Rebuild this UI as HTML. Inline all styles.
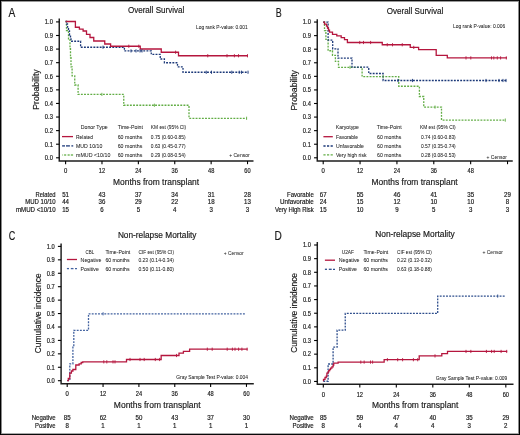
<!DOCTYPE html>
<html><head><meta charset="utf-8"><title>Survival curves</title>
<style>
html,body{margin:0;padding:0;background:#fff;}
svg{display:block;}
text{font-family:"Liberation Sans", sans-serif;}
.t{opacity:0.999;}
.t text{stroke:#1a1a1a;stroke-width:0.18px;}
</style></head>
<body>
<svg width="520" height="435" viewBox="0 0 520 435">
<rect width="520" height="435" fill="#fff"/>
<path d="M59.25,18.50 L59.25,161.00 L253.50,161.00" fill="none" stroke="#1e1e1e" stroke-width="1.45"/>
<line x1="56.05" y1="157.80" x2="59.25" y2="157.80" stroke="#000" stroke-width="1.1"/>
<line x1="56.05" y1="144.21" x2="59.25" y2="144.21" stroke="#000" stroke-width="1.1"/>
<line x1="56.05" y1="130.62" x2="59.25" y2="130.62" stroke="#000" stroke-width="1.1"/>
<line x1="56.05" y1="117.03" x2="59.25" y2="117.03" stroke="#000" stroke-width="1.1"/>
<line x1="56.05" y1="103.44" x2="59.25" y2="103.44" stroke="#000" stroke-width="1.1"/>
<line x1="56.05" y1="89.85" x2="59.25" y2="89.85" stroke="#000" stroke-width="1.1"/>
<line x1="56.05" y1="76.26" x2="59.25" y2="76.26" stroke="#000" stroke-width="1.1"/>
<line x1="56.05" y1="62.67" x2="59.25" y2="62.67" stroke="#000" stroke-width="1.1"/>
<line x1="56.05" y1="49.08" x2="59.25" y2="49.08" stroke="#000" stroke-width="1.1"/>
<line x1="56.05" y1="35.49" x2="59.25" y2="35.49" stroke="#000" stroke-width="1.1"/>
<line x1="56.05" y1="21.90" x2="59.25" y2="21.90" stroke="#000" stroke-width="1.1"/>
<line x1="65.60" y1="161.00" x2="65.60" y2="164.20" stroke="#000" stroke-width="1.1"/>
<line x1="101.98" y1="161.00" x2="101.98" y2="164.20" stroke="#000" stroke-width="1.1"/>
<line x1="138.37" y1="161.00" x2="138.37" y2="164.20" stroke="#000" stroke-width="1.1"/>
<line x1="174.75" y1="161.00" x2="174.75" y2="164.20" stroke="#000" stroke-width="1.1"/>
<line x1="211.14" y1="161.00" x2="211.14" y2="164.20" stroke="#000" stroke-width="1.1"/>
<line x1="247.52" y1="161.00" x2="247.52" y2="164.20" stroke="#000" stroke-width="1.1"/>
<path d="M65.60,21.50 L66.50,21.50 L66.50,30.50 L68.50,30.50 L68.50,39.60 L70.00,39.60 L70.00,48.70 L70.50,48.70 L70.50,57.70 L71.00,57.70 L71.00,66.80 L72.10,66.80 L72.10,75.90 L74.75,75.90 L74.75,85.00 L78.10,85.00 L78.10,94.40 L123.75,94.40 L123.75,105.25 L189.00,105.25 L189.00,118.30 L246.75,118.30 L246.75,118.30" fill="none" stroke="#62ad45" stroke-width="1.3" stroke-dasharray="1.9,1.25"/>
<path d="M65.60,21.50 L66.50,21.50 L66.50,24.00 L67.50,24.00 L67.50,27.00 L68.50,27.00 L68.50,31.00 L69.50,31.00 L69.50,35.00 L70.50,35.00 L70.50,37.75 L71.00,37.75 L71.00,41.25 L80.60,41.25 L80.60,47.25 L124.40,47.25 L124.40,50.90 L151.25,50.90 L151.25,54.40 L160.25,54.40 L160.25,59.00 L164.40,59.00 L164.40,62.75 L177.50,62.75 L177.50,66.90 L183.00,66.90 L183.00,72.25 L248.20,72.25 L248.20,72.25" fill="none" stroke="#1b3878" stroke-width="1.3" stroke-dasharray="1.9,1.25"/>
<path d="M65.60,21.50 L75.40,21.50 L75.40,27.25 L79.40,27.25 L79.40,29.10 L83.10,29.10 L83.10,31.00 L86.50,31.00 L86.50,34.40 L90.00,34.40 L90.00,37.50 L93.75,37.50 L93.75,41.00 L104.75,41.00 L104.75,44.00 L110.60,44.00 L110.60,46.25 L140.25,46.25 L140.25,49.00 L161.25,49.00 L161.25,52.25 L178.50,52.25 L178.50,55.75 L247.80,55.75 L247.80,55.75" fill="none" stroke="#b5163e" stroke-width="1.3"/>
<line x1="128.80" y1="44.65" x2="128.80" y2="47.85" stroke="#b5163e" stroke-width="0.9"/>
<line x1="138.80" y1="44.65" x2="138.80" y2="47.85" stroke="#b5163e" stroke-width="0.9"/>
<line x1="175.60" y1="50.65" x2="175.60" y2="53.85" stroke="#b5163e" stroke-width="0.9"/>
<line x1="207.75" y1="54.15" x2="207.75" y2="57.35" stroke="#b5163e" stroke-width="0.9"/>
<line x1="227.00" y1="54.15" x2="227.00" y2="57.35" stroke="#b5163e" stroke-width="0.9"/>
<line x1="234.40" y1="54.15" x2="234.40" y2="57.35" stroke="#b5163e" stroke-width="0.9"/>
<line x1="238.50" y1="54.15" x2="238.50" y2="57.35" stroke="#b5163e" stroke-width="0.9"/>
<line x1="247.50" y1="54.15" x2="247.50" y2="57.35" stroke="#b5163e" stroke-width="0.9"/>
<line x1="103.00" y1="45.65" x2="103.00" y2="48.85" stroke="#1b3878" stroke-width="0.9"/>
<line x1="131.00" y1="49.30" x2="131.00" y2="52.50" stroke="#1b3878" stroke-width="0.9"/>
<line x1="136.00" y1="49.30" x2="136.00" y2="52.50" stroke="#1b3878" stroke-width="0.9"/>
<line x1="140.00" y1="49.30" x2="140.00" y2="52.50" stroke="#1b3878" stroke-width="0.9"/>
<line x1="142.00" y1="49.30" x2="142.00" y2="52.50" stroke="#1b3878" stroke-width="0.9"/>
<line x1="206.25" y1="70.65" x2="206.25" y2="73.85" stroke="#1b3878" stroke-width="0.9"/>
<line x1="211.50" y1="70.65" x2="211.50" y2="73.85" stroke="#1b3878" stroke-width="0.9"/>
<line x1="231.75" y1="70.65" x2="231.75" y2="73.85" stroke="#1b3878" stroke-width="0.9"/>
<line x1="239.25" y1="70.65" x2="239.25" y2="73.85" stroke="#1b3878" stroke-width="0.9"/>
<line x1="241.50" y1="70.65" x2="241.50" y2="73.85" stroke="#1b3878" stroke-width="0.9"/>
<line x1="248.00" y1="70.65" x2="248.00" y2="73.85" stroke="#1b3878" stroke-width="0.9"/>
<line x1="101.90" y1="92.80" x2="101.90" y2="96.00" stroke="#62ad45" stroke-width="0.9"/>
<line x1="154.40" y1="103.65" x2="154.40" y2="106.85" stroke="#62ad45" stroke-width="0.9"/>
<line x1="246.60" y1="116.70" x2="246.60" y2="119.90" stroke="#62ad45" stroke-width="0.9"/>
<line x1="62.00" y1="136.60" x2="73.00" y2="136.60" stroke="#b5163e" stroke-width="1.3"/>
<line x1="62.10" y1="145.90" x2="65.00" y2="145.90" stroke="#1b3878" stroke-width="1.3"/>
<line x1="66.00" y1="145.90" x2="69.90" y2="145.90" stroke="#1b3878" stroke-width="1.3"/>
<line x1="71.40" y1="145.90" x2="73.20" y2="145.90" stroke="#1b3878" stroke-width="1.3"/>
<line x1="64.10" y1="155.00" x2="66.20" y2="155.00" stroke="#62ad45" stroke-width="1.3"/>
<line x1="67.60" y1="155.00" x2="69.70" y2="155.00" stroke="#62ad45" stroke-width="1.3"/>
<line x1="70.80" y1="155.00" x2="73.10" y2="155.00" stroke="#62ad45" stroke-width="1.3"/>
<line x1="62.0" y1="155.0" x2="63.1" y2="155.0" stroke="#62ad45" stroke-width="1.3" opacity="0.5"/>
<path d="M317.25,19.30 L317.25,161.00 L512.75,161.00" fill="none" stroke="#1e1e1e" stroke-width="1.45"/>
<line x1="314.05" y1="157.80" x2="317.25" y2="157.80" stroke="#000" stroke-width="1.1"/>
<line x1="314.05" y1="144.23" x2="317.25" y2="144.23" stroke="#000" stroke-width="1.1"/>
<line x1="314.05" y1="130.65" x2="317.25" y2="130.65" stroke="#000" stroke-width="1.1"/>
<line x1="314.05" y1="117.08" x2="317.25" y2="117.08" stroke="#000" stroke-width="1.1"/>
<line x1="314.05" y1="103.50" x2="317.25" y2="103.50" stroke="#000" stroke-width="1.1"/>
<line x1="314.05" y1="89.93" x2="317.25" y2="89.93" stroke="#000" stroke-width="1.1"/>
<line x1="314.05" y1="76.35" x2="317.25" y2="76.35" stroke="#000" stroke-width="1.1"/>
<line x1="314.05" y1="62.78" x2="317.25" y2="62.78" stroke="#000" stroke-width="1.1"/>
<line x1="314.05" y1="49.20" x2="317.25" y2="49.20" stroke="#000" stroke-width="1.1"/>
<line x1="314.05" y1="35.63" x2="317.25" y2="35.63" stroke="#000" stroke-width="1.1"/>
<line x1="314.05" y1="22.05" x2="317.25" y2="22.05" stroke="#000" stroke-width="1.1"/>
<line x1="323.20" y1="161.00" x2="323.20" y2="164.20" stroke="#000" stroke-width="1.1"/>
<line x1="360.06" y1="161.00" x2="360.06" y2="164.20" stroke="#000" stroke-width="1.1"/>
<line x1="396.93" y1="161.00" x2="396.93" y2="164.20" stroke="#000" stroke-width="1.1"/>
<line x1="433.79" y1="161.00" x2="433.79" y2="164.20" stroke="#000" stroke-width="1.1"/>
<line x1="470.66" y1="161.00" x2="470.66" y2="164.20" stroke="#000" stroke-width="1.1"/>
<line x1="507.52" y1="161.00" x2="507.52" y2="164.20" stroke="#000" stroke-width="1.1"/>
<path d="M323.20,22.20 L324.50,22.20 L324.50,30.60 L325.90,30.60 L325.90,39.40 L328.10,39.40 L328.10,50.75 L332.50,50.75 L332.50,55.30 L335.40,55.30 L335.40,61.40 L338.50,61.40 L338.50,67.30 L362.10,67.30 L362.10,76.60 L398.75,76.60 L398.75,86.25 L419.40,86.25 L419.40,96.50 L423.75,96.50 L423.75,107.10 L441.50,107.10 L441.50,120.10 L505.50,120.10 L505.50,120.10" fill="none" stroke="#62ad45" stroke-width="1.3" stroke-dasharray="1.9,1.25"/>
<path d="M323.20,22.20 L328.10,22.20 L328.10,40.10 L332.70,40.10 L332.70,48.80 L338.00,48.80 L338.00,58.20 L352.00,58.20 L352.00,67.20 L368.75,67.20 L368.75,73.50 L383.10,73.50 L383.10,80.50 L507.00,80.50 L507.00,80.50" fill="none" stroke="#1b3878" stroke-width="1.3" stroke-dasharray="1.9,1.25"/>
<path d="M323.20,22.20 L324.50,22.20 L324.50,24.20 L326.50,24.20 L326.50,26.20 L327.50,26.20 L327.50,28.20 L328.50,28.20 L328.50,30.20 L329.50,30.20 L329.50,32.20 L332.50,32.20 L332.50,34.30 L336.80,34.30 L336.80,35.80 L341.20,35.80 L341.20,37.70 L344.50,37.70 L344.50,39.65 L347.40,39.65 L347.40,42.50 L382.25,42.50 L382.25,44.75 L410.25,44.75 L410.25,47.40 L418.60,47.40 L418.60,49.60 L436.20,49.60 L436.20,55.40 L447.30,55.40 L447.30,57.90 L507.00,57.90 L507.00,57.90" fill="none" stroke="#b5163e" stroke-width="1.3"/>
<line x1="359.75" y1="40.90" x2="359.75" y2="44.10" stroke="#b5163e" stroke-width="0.9"/>
<line x1="363.50" y1="40.90" x2="363.50" y2="44.10" stroke="#b5163e" stroke-width="0.9"/>
<line x1="370.60" y1="40.90" x2="370.60" y2="44.10" stroke="#b5163e" stroke-width="0.9"/>
<line x1="387.25" y1="43.15" x2="387.25" y2="46.35" stroke="#b5163e" stroke-width="0.9"/>
<line x1="392.50" y1="43.15" x2="392.50" y2="46.35" stroke="#b5163e" stroke-width="0.9"/>
<line x1="402.25" y1="43.15" x2="402.25" y2="46.35" stroke="#b5163e" stroke-width="0.9"/>
<line x1="413.75" y1="45.80" x2="413.75" y2="49.00" stroke="#b5163e" stroke-width="0.9"/>
<line x1="466.00" y1="56.30" x2="466.00" y2="59.50" stroke="#b5163e" stroke-width="0.9"/>
<line x1="470.80" y1="56.30" x2="470.80" y2="59.50" stroke="#b5163e" stroke-width="0.9"/>
<line x1="491.50" y1="56.30" x2="491.50" y2="59.50" stroke="#b5163e" stroke-width="0.9"/>
<line x1="493.80" y1="56.30" x2="493.80" y2="59.50" stroke="#b5163e" stroke-width="0.9"/>
<line x1="497.30" y1="56.30" x2="497.30" y2="59.50" stroke="#b5163e" stroke-width="0.9"/>
<line x1="500.60" y1="56.30" x2="500.60" y2="59.50" stroke="#b5163e" stroke-width="0.9"/>
<line x1="506.30" y1="56.30" x2="506.30" y2="59.50" stroke="#b5163e" stroke-width="0.9"/>
<line x1="398.00" y1="78.90" x2="398.00" y2="82.10" stroke="#1b3878" stroke-width="0.9"/>
<line x1="412.50" y1="78.90" x2="412.50" y2="82.10" stroke="#1b3878" stroke-width="0.9"/>
<line x1="486.00" y1="78.90" x2="486.00" y2="82.10" stroke="#1b3878" stroke-width="0.9"/>
<line x1="499.00" y1="78.90" x2="499.00" y2="82.10" stroke="#1b3878" stroke-width="0.9"/>
<line x1="503.00" y1="78.90" x2="503.00" y2="82.10" stroke="#1b3878" stroke-width="0.9"/>
<line x1="506.00" y1="78.90" x2="506.00" y2="82.10" stroke="#1b3878" stroke-width="0.9"/>
<line x1="350.00" y1="65.70" x2="350.00" y2="68.90" stroke="#62ad45" stroke-width="0.9"/>
<line x1="383.10" y1="75.00" x2="383.10" y2="78.20" stroke="#62ad45" stroke-width="0.9"/>
<line x1="435.00" y1="105.50" x2="435.00" y2="108.70" stroke="#62ad45" stroke-width="0.9"/>
<line x1="505.30" y1="118.50" x2="505.30" y2="121.70" stroke="#62ad45" stroke-width="0.9"/>
<line x1="323.40" y1="136.70" x2="332.80" y2="136.70" stroke="#b5163e" stroke-width="1.3"/>
<line x1="323.40" y1="146.00" x2="332.80" y2="146.00" stroke="#1b3878" stroke-width="1.3" stroke-dasharray="2.2,1.4"/>
<line x1="323.40" y1="154.90" x2="332.80" y2="154.90" stroke="#62ad45" stroke-width="1.3" stroke-dasharray="2.2,1.4"/>
<path d="M61.10,243.50 L61.10,383.70 L253.80,383.70" fill="none" stroke="#1e1e1e" stroke-width="1.45"/>
<line x1="57.90" y1="380.70" x2="61.10" y2="380.70" stroke="#000" stroke-width="1.1"/>
<line x1="57.90" y1="367.27" x2="61.10" y2="367.27" stroke="#000" stroke-width="1.1"/>
<line x1="57.90" y1="353.84" x2="61.10" y2="353.84" stroke="#000" stroke-width="1.1"/>
<line x1="57.90" y1="340.41" x2="61.10" y2="340.41" stroke="#000" stroke-width="1.1"/>
<line x1="57.90" y1="326.98" x2="61.10" y2="326.98" stroke="#000" stroke-width="1.1"/>
<line x1="57.90" y1="313.55" x2="61.10" y2="313.55" stroke="#000" stroke-width="1.1"/>
<line x1="57.90" y1="300.12" x2="61.10" y2="300.12" stroke="#000" stroke-width="1.1"/>
<line x1="57.90" y1="286.69" x2="61.10" y2="286.69" stroke="#000" stroke-width="1.1"/>
<line x1="57.90" y1="273.26" x2="61.10" y2="273.26" stroke="#000" stroke-width="1.1"/>
<line x1="57.90" y1="259.83" x2="61.10" y2="259.83" stroke="#000" stroke-width="1.1"/>
<line x1="57.90" y1="246.40" x2="61.10" y2="246.40" stroke="#000" stroke-width="1.1"/>
<line x1="67.20" y1="383.70" x2="67.20" y2="386.90" stroke="#000" stroke-width="1.1"/>
<line x1="103.06" y1="383.70" x2="103.06" y2="386.90" stroke="#000" stroke-width="1.1"/>
<line x1="138.91" y1="383.70" x2="138.91" y2="386.90" stroke="#000" stroke-width="1.1"/>
<line x1="174.77" y1="383.70" x2="174.77" y2="386.90" stroke="#000" stroke-width="1.1"/>
<line x1="210.62" y1="383.70" x2="210.62" y2="386.90" stroke="#000" stroke-width="1.1"/>
<line x1="246.48" y1="383.70" x2="246.48" y2="386.90" stroke="#000" stroke-width="1.1"/>
<path d="M67.20,380.60 L69.80,380.60 L69.80,363.80 L72.90,363.80 L72.90,347.10 L73.80,347.10 L73.80,330.30 L88.50,330.30 L88.50,313.80 L246.00,313.80 L246.00,313.80" fill="none" stroke="#4262a0" stroke-width="1.3" stroke-dasharray="1.9,1.25"/>
<path d="M67.20,380.60 L68.30,380.60 L68.30,378.50 L69.80,378.50 L69.80,373.10 L71.40,373.10 L71.40,371.00 L72.90,371.00 L72.90,369.50 L75.80,369.50 L75.80,365.00 L79.10,365.00 L79.10,363.80 L81.20,363.80 L81.20,362.50 L82.75,362.50 L82.75,361.85 L126.50,361.85 L126.50,359.50 L161.15,359.50 L161.15,355.50 L179.00,355.50 L179.00,353.10 L183.40,353.10 L183.40,351.30 L189.60,351.30 L189.60,349.20 L247.60,349.20 L247.60,349.20" fill="none" stroke="#b5163e" stroke-width="1.3"/>
<line x1="103.80" y1="360.25" x2="103.80" y2="363.45" stroke="#b5163e" stroke-width="0.9"/>
<line x1="106.80" y1="360.25" x2="106.80" y2="363.45" stroke="#b5163e" stroke-width="0.9"/>
<line x1="113.00" y1="360.25" x2="113.00" y2="363.45" stroke="#b5163e" stroke-width="0.9"/>
<line x1="115.00" y1="360.25" x2="115.00" y2="363.45" stroke="#b5163e" stroke-width="0.9"/>
<line x1="130.00" y1="357.90" x2="130.00" y2="361.10" stroke="#b5163e" stroke-width="0.9"/>
<line x1="140.00" y1="357.90" x2="140.00" y2="361.10" stroke="#b5163e" stroke-width="0.9"/>
<line x1="144.20" y1="357.90" x2="144.20" y2="361.10" stroke="#b5163e" stroke-width="0.9"/>
<line x1="155.30" y1="357.90" x2="155.30" y2="361.10" stroke="#b5163e" stroke-width="0.9"/>
<line x1="159.60" y1="357.90" x2="159.60" y2="361.10" stroke="#b5163e" stroke-width="0.9"/>
<line x1="176.50" y1="353.90" x2="176.50" y2="357.10" stroke="#b5163e" stroke-width="0.9"/>
<line x1="207.30" y1="347.60" x2="207.30" y2="350.80" stroke="#b5163e" stroke-width="0.9"/>
<line x1="212.20" y1="347.60" x2="212.20" y2="350.80" stroke="#b5163e" stroke-width="0.9"/>
<line x1="227.20" y1="347.60" x2="227.20" y2="350.80" stroke="#b5163e" stroke-width="0.9"/>
<line x1="232.40" y1="347.60" x2="232.40" y2="350.80" stroke="#b5163e" stroke-width="0.9"/>
<line x1="235.00" y1="347.60" x2="235.00" y2="350.80" stroke="#b5163e" stroke-width="0.9"/>
<line x1="238.60" y1="347.60" x2="238.60" y2="350.80" stroke="#b5163e" stroke-width="0.9"/>
<line x1="241.90" y1="347.60" x2="241.90" y2="350.80" stroke="#b5163e" stroke-width="0.9"/>
<line x1="247.10" y1="347.60" x2="247.10" y2="350.80" stroke="#b5163e" stroke-width="0.9"/>
<line x1="103.10" y1="312.20" x2="103.10" y2="315.40" stroke="#4262a0" stroke-width="0.9"/>
<line x1="66.90" y1="259.50" x2="77.00" y2="259.50" stroke="#b5163e" stroke-width="1.3"/>
<line x1="66.90" y1="268.60" x2="69.00" y2="268.60" stroke="#4262a0" stroke-width="1.3"/>
<line x1="70.80" y1="268.60" x2="73.50" y2="268.60" stroke="#4262a0" stroke-width="1.3"/>
<line x1="75.00" y1="268.60" x2="77.00" y2="268.60" stroke="#4262a0" stroke-width="1.3"/>
<path d="M317.30,242.00 L317.30,384.30 L513.50,384.30" fill="none" stroke="#1e1e1e" stroke-width="1.45"/>
<line x1="314.10" y1="381.45" x2="317.30" y2="381.45" stroke="#000" stroke-width="1.1"/>
<line x1="314.10" y1="367.81" x2="317.30" y2="367.81" stroke="#000" stroke-width="1.1"/>
<line x1="314.10" y1="354.16" x2="317.30" y2="354.16" stroke="#000" stroke-width="1.1"/>
<line x1="314.10" y1="340.51" x2="317.30" y2="340.51" stroke="#000" stroke-width="1.1"/>
<line x1="314.10" y1="326.87" x2="317.30" y2="326.87" stroke="#000" stroke-width="1.1"/>
<line x1="314.10" y1="313.23" x2="317.30" y2="313.23" stroke="#000" stroke-width="1.1"/>
<line x1="314.10" y1="299.58" x2="317.30" y2="299.58" stroke="#000" stroke-width="1.1"/>
<line x1="314.10" y1="285.94" x2="317.30" y2="285.94" stroke="#000" stroke-width="1.1"/>
<line x1="314.10" y1="272.29" x2="317.30" y2="272.29" stroke="#000" stroke-width="1.1"/>
<line x1="314.10" y1="258.64" x2="317.30" y2="258.64" stroke="#000" stroke-width="1.1"/>
<line x1="314.10" y1="245.00" x2="317.30" y2="245.00" stroke="#000" stroke-width="1.1"/>
<line x1="323.30" y1="384.30" x2="323.30" y2="387.50" stroke="#000" stroke-width="1.1"/>
<line x1="359.80" y1="384.30" x2="359.80" y2="387.50" stroke="#000" stroke-width="1.1"/>
<line x1="396.31" y1="384.30" x2="396.31" y2="387.50" stroke="#000" stroke-width="1.1"/>
<line x1="432.81" y1="384.30" x2="432.81" y2="387.50" stroke="#000" stroke-width="1.1"/>
<line x1="469.32" y1="384.30" x2="469.32" y2="387.50" stroke="#000" stroke-width="1.1"/>
<line x1="505.82" y1="384.30" x2="505.82" y2="387.50" stroke="#000" stroke-width="1.1"/>
<path d="M323.30,381.25 L328.10,381.25 L328.10,364.00 L333.10,364.00 L333.10,347.10 L337.10,347.10 L337.10,330.20 L345.25,330.20 L345.25,313.40 L437.70,313.40 L437.70,296.10 L505.60,296.10 L505.60,296.10" fill="none" stroke="#2d4d8c" stroke-width="1.3" stroke-dasharray="1.9,1.25"/>
<path d="M323.50,381.25 L323.50,381.25 L323.50,379.40 L325.00,379.40 L325.00,377.50 L326.25,377.50 L326.25,376.25 L326.90,376.25 L326.90,373.10 L328.10,373.10 L328.10,371.90 L328.75,371.90 L328.75,370.60 L329.75,370.60 L329.75,369.40 L330.60,369.40 L330.60,368.10 L331.90,368.10 L331.90,366.90 L333.10,366.90 L333.10,365.00 L333.75,365.00 L333.75,363.10 L338.10,363.10 L338.10,362.10 L384.15,362.10 L384.15,359.70 L419.20,359.70 L419.20,355.90 L441.80,355.90 L441.80,353.70 L447.50,353.70 L447.50,351.45 L507.20,351.45 L507.20,351.45" fill="none" stroke="#b5163e" stroke-width="1.3"/>
<line x1="360.80" y1="360.50" x2="360.80" y2="363.70" stroke="#b5163e" stroke-width="0.9"/>
<line x1="364.15" y1="360.50" x2="364.15" y2="363.70" stroke="#b5163e" stroke-width="0.9"/>
<line x1="370.50" y1="360.50" x2="370.50" y2="363.70" stroke="#b5163e" stroke-width="0.9"/>
<line x1="372.60" y1="360.50" x2="372.60" y2="363.70" stroke="#b5163e" stroke-width="0.9"/>
<line x1="387.40" y1="358.10" x2="387.40" y2="361.30" stroke="#b5163e" stroke-width="0.9"/>
<line x1="397.70" y1="358.10" x2="397.70" y2="361.30" stroke="#b5163e" stroke-width="0.9"/>
<line x1="402.60" y1="358.10" x2="402.60" y2="361.30" stroke="#b5163e" stroke-width="0.9"/>
<line x1="413.40" y1="358.10" x2="413.40" y2="361.30" stroke="#b5163e" stroke-width="0.9"/>
<line x1="417.70" y1="358.10" x2="417.70" y2="361.30" stroke="#b5163e" stroke-width="0.9"/>
<line x1="435.00" y1="354.30" x2="435.00" y2="357.50" stroke="#b5163e" stroke-width="0.9"/>
<line x1="466.00" y1="349.85" x2="466.00" y2="353.05" stroke="#b5163e" stroke-width="0.9"/>
<line x1="470.85" y1="349.85" x2="470.85" y2="353.05" stroke="#b5163e" stroke-width="0.9"/>
<line x1="486.40" y1="349.85" x2="486.40" y2="353.05" stroke="#b5163e" stroke-width="0.9"/>
<line x1="491.60" y1="349.85" x2="491.60" y2="353.05" stroke="#b5163e" stroke-width="0.9"/>
<line x1="494.20" y1="349.85" x2="494.20" y2="353.05" stroke="#b5163e" stroke-width="0.9"/>
<line x1="501.10" y1="349.85" x2="501.10" y2="353.05" stroke="#b5163e" stroke-width="0.9"/>
<line x1="506.70" y1="349.85" x2="506.70" y2="353.05" stroke="#b5163e" stroke-width="0.9"/>
<line x1="497.70" y1="294.50" x2="497.70" y2="297.70" stroke="#2d4d8c" stroke-width="0.9"/>
<line x1="324.90" y1="260.20" x2="335.00" y2="260.20" stroke="#b5163e" stroke-width="1.3"/>
<line x1="324.90" y1="269.30" x2="327.00" y2="269.30" stroke="#2d4d8c" stroke-width="1.3"/>
<line x1="328.80" y1="269.30" x2="331.70" y2="269.30" stroke="#2d4d8c" stroke-width="1.3"/>
<line x1="333.00" y1="269.30" x2="335.00" y2="269.30" stroke="#2d4d8c" stroke-width="1.3"/>
<g class="t">
<text x="8.50" y="16.50" font-size="12.0" textLength="6.80" lengthAdjust="spacingAndGlyphs" fill="#1a1a1a">A</text>
<text x="127.90" y="13.40" font-size="8.9" textLength="56.40" lengthAdjust="spacingAndGlyphs" fill="#1a1a1a">Overall Survival</text>
<text x="196.00" y="28.70" font-size="5.4" textLength="51.75" lengthAdjust="spacingAndGlyphs" fill="#1a1a1a" style="stroke-width:0.05px">Log rank P-value: 0.001</text>
<text transform="translate(38.50,109.70) rotate(-90)" x="0" y="0" font-size="9.4" textLength="40.30" lengthAdjust="spacingAndGlyphs" fill="#1a1a1a">Probability</text>
<text x="44.85" y="160.10" font-size="6.6" textLength="8.00" lengthAdjust="spacingAndGlyphs" fill="#1a1a1a">0.0</text>
<text x="44.85" y="146.51" font-size="6.6" textLength="8.00" lengthAdjust="spacingAndGlyphs" fill="#1a1a1a">0.1</text>
<text x="44.85" y="132.92" font-size="6.6" textLength="8.00" lengthAdjust="spacingAndGlyphs" fill="#1a1a1a">0.2</text>
<text x="44.85" y="119.33" font-size="6.6" textLength="8.00" lengthAdjust="spacingAndGlyphs" fill="#1a1a1a">0.3</text>
<text x="44.85" y="105.74" font-size="6.6" textLength="8.00" lengthAdjust="spacingAndGlyphs" fill="#1a1a1a">0.4</text>
<text x="44.85" y="92.15" font-size="6.6" textLength="8.00" lengthAdjust="spacingAndGlyphs" fill="#1a1a1a">0.5</text>
<text x="44.85" y="78.56" font-size="6.6" textLength="8.00" lengthAdjust="spacingAndGlyphs" fill="#1a1a1a">0.6</text>
<text x="44.85" y="64.97" font-size="6.6" textLength="8.00" lengthAdjust="spacingAndGlyphs" fill="#1a1a1a">0.7</text>
<text x="44.85" y="51.38" font-size="6.6" textLength="8.00" lengthAdjust="spacingAndGlyphs" fill="#1a1a1a">0.8</text>
<text x="44.85" y="37.79" font-size="6.6" textLength="8.00" lengthAdjust="spacingAndGlyphs" fill="#1a1a1a">0.9</text>
<text x="44.85" y="24.20" font-size="6.6" textLength="8.00" lengthAdjust="spacingAndGlyphs" fill="#1a1a1a">1.0</text>
<text x="65.60" y="173.30" font-size="6.6" text-anchor="middle" textLength="3.30" lengthAdjust="spacingAndGlyphs" fill="#1a1a1a">0</text>
<text x="101.98" y="173.30" font-size="6.6" text-anchor="middle" textLength="6.30" lengthAdjust="spacingAndGlyphs" fill="#1a1a1a">12</text>
<text x="138.37" y="173.30" font-size="6.6" text-anchor="middle" textLength="6.30" lengthAdjust="spacingAndGlyphs" fill="#1a1a1a">24</text>
<text x="174.75" y="173.30" font-size="6.6" text-anchor="middle" textLength="6.30" lengthAdjust="spacingAndGlyphs" fill="#1a1a1a">36</text>
<text x="211.14" y="173.30" font-size="6.6" text-anchor="middle" textLength="6.30" lengthAdjust="spacingAndGlyphs" fill="#1a1a1a">48</text>
<text x="247.52" y="173.30" font-size="6.6" text-anchor="middle" textLength="6.30" lengthAdjust="spacingAndGlyphs" fill="#1a1a1a">60</text>
<text x="80.80" y="129.40" font-size="5.9" textLength="26.90" lengthAdjust="spacingAndGlyphs" fill="#1a1a1a" style="stroke-width:0.05px">Donor Type</text>
<text x="117.70" y="129.40" font-size="5.9" textLength="25.30" lengthAdjust="spacingAndGlyphs" fill="#1a1a1a" style="stroke-width:0.05px">Time-Point</text>
<text x="150.80" y="129.40" font-size="5.9" textLength="35.40" lengthAdjust="spacingAndGlyphs" fill="#1a1a1a" style="stroke-width:0.05px">KM est (95% CI)</text>
<text x="76.00" y="138.60" font-size="5.9" textLength="17.00" lengthAdjust="spacingAndGlyphs" fill="#1a1a1a" style="stroke-width:0.05px">Related</text>
<text x="117.70" y="138.60" font-size="5.9" textLength="24.60" lengthAdjust="spacingAndGlyphs" fill="#1a1a1a" style="stroke-width:0.05px">60 months</text>
<text x="150.80" y="138.60" font-size="5.9" textLength="34.90" lengthAdjust="spacingAndGlyphs" fill="#1a1a1a" style="stroke-width:0.05px">0.75 (0.60-0.85)</text>
<text x="76.00" y="147.90" font-size="5.9" textLength="26.30" lengthAdjust="spacingAndGlyphs" fill="#1a1a1a" style="stroke-width:0.05px">MUD 10/10</text>
<text x="117.70" y="147.90" font-size="5.9" textLength="24.60" lengthAdjust="spacingAndGlyphs" fill="#1a1a1a" style="stroke-width:0.05px">60 months</text>
<text x="150.80" y="147.90" font-size="5.9" textLength="34.90" lengthAdjust="spacingAndGlyphs" fill="#1a1a1a" style="stroke-width:0.05px">0.63 (0.45-0.77)</text>
<text x="76.00" y="157.00" font-size="5.9" textLength="34.40" lengthAdjust="spacingAndGlyphs" fill="#1a1a1a" style="stroke-width:0.05px">mMUD &lt;10/10</text>
<text x="117.70" y="157.00" font-size="5.9" textLength="24.60" lengthAdjust="spacingAndGlyphs" fill="#1a1a1a" style="stroke-width:0.05px">60 months</text>
<text x="150.80" y="157.00" font-size="5.9" textLength="34.90" lengthAdjust="spacingAndGlyphs" fill="#1a1a1a" style="stroke-width:0.05px">0.29 (0.08-0.54)</text>
<text x="229.20" y="156.60" font-size="6.2" textLength="20.40" lengthAdjust="spacingAndGlyphs" fill="#1a1a1a" style="stroke-width:0.04px">+ Censor</text>
<text x="113.00" y="185.10" font-size="9.3" textLength="86.10" lengthAdjust="spacingAndGlyphs" fill="#1a1a1a">Months from transplant</text>
<text x="35.60" y="196.50" font-size="6.4" textLength="20.00" lengthAdjust="spacingAndGlyphs" fill="#1a1a1a">Related</text>
<text x="65.60" y="196.50" font-size="6.4" text-anchor="middle" textLength="6.80" lengthAdjust="spacingAndGlyphs" fill="#1a1a1a">51</text>
<text x="101.98" y="196.50" font-size="6.4" text-anchor="middle" textLength="6.80" lengthAdjust="spacingAndGlyphs" fill="#1a1a1a">43</text>
<text x="138.37" y="196.50" font-size="6.4" text-anchor="middle" textLength="6.80" lengthAdjust="spacingAndGlyphs" fill="#1a1a1a">37</text>
<text x="174.75" y="196.50" font-size="6.4" text-anchor="middle" textLength="6.80" lengthAdjust="spacingAndGlyphs" fill="#1a1a1a">34</text>
<text x="211.14" y="196.50" font-size="6.4" text-anchor="middle" textLength="6.80" lengthAdjust="spacingAndGlyphs" fill="#1a1a1a">31</text>
<text x="247.52" y="196.50" font-size="6.4" text-anchor="middle" textLength="6.80" lengthAdjust="spacingAndGlyphs" fill="#1a1a1a">28</text>
<text x="25.30" y="204.40" font-size="6.4" textLength="30.30" lengthAdjust="spacingAndGlyphs" fill="#1a1a1a">MUD 10/10</text>
<text x="65.60" y="204.40" font-size="6.4" text-anchor="middle" textLength="6.80" lengthAdjust="spacingAndGlyphs" fill="#1a1a1a">44</text>
<text x="101.98" y="204.40" font-size="6.4" text-anchor="middle" textLength="6.80" lengthAdjust="spacingAndGlyphs" fill="#1a1a1a">36</text>
<text x="138.37" y="204.40" font-size="6.4" text-anchor="middle" textLength="6.80" lengthAdjust="spacingAndGlyphs" fill="#1a1a1a">29</text>
<text x="174.75" y="204.40" font-size="6.4" text-anchor="middle" textLength="6.80" lengthAdjust="spacingAndGlyphs" fill="#1a1a1a">22</text>
<text x="211.14" y="204.40" font-size="6.4" text-anchor="middle" textLength="6.80" lengthAdjust="spacingAndGlyphs" fill="#1a1a1a">18</text>
<text x="247.52" y="204.40" font-size="6.4" text-anchor="middle" textLength="6.80" lengthAdjust="spacingAndGlyphs" fill="#1a1a1a">13</text>
<text x="16.00" y="212.30" font-size="6.4" textLength="39.60" lengthAdjust="spacingAndGlyphs" fill="#1a1a1a">mMUD &lt;10/10</text>
<text x="65.60" y="212.30" font-size="6.4" text-anchor="middle" textLength="6.80" lengthAdjust="spacingAndGlyphs" fill="#1a1a1a">15</text>
<text x="101.98" y="212.30" font-size="6.4" text-anchor="middle" textLength="3.40" lengthAdjust="spacingAndGlyphs" fill="#1a1a1a">6</text>
<text x="138.37" y="212.30" font-size="6.4" text-anchor="middle" textLength="3.40" lengthAdjust="spacingAndGlyphs" fill="#1a1a1a">5</text>
<text x="174.75" y="212.30" font-size="6.4" text-anchor="middle" textLength="3.40" lengthAdjust="spacingAndGlyphs" fill="#1a1a1a">4</text>
<text x="211.14" y="212.30" font-size="6.4" text-anchor="middle" textLength="3.40" lengthAdjust="spacingAndGlyphs" fill="#1a1a1a">3</text>
<text x="247.52" y="212.30" font-size="6.4" text-anchor="middle" textLength="3.40" lengthAdjust="spacingAndGlyphs" fill="#1a1a1a">3</text>
<text x="275.80" y="16.60" font-size="12.5" textLength="6.00" lengthAdjust="spacingAndGlyphs" fill="#1a1a1a">B</text>
<text x="386.70" y="13.90" font-size="8.9" textLength="56.60" lengthAdjust="spacingAndGlyphs" fill="#1a1a1a">Overall Survival</text>
<text x="453.00" y="28.30" font-size="5.4" textLength="52.20" lengthAdjust="spacingAndGlyphs" fill="#1a1a1a" style="stroke-width:0.05px">Log rank P-value: 0.006</text>
<text transform="translate(296.50,110.40) rotate(-90)" x="0" y="0" font-size="9.4" textLength="40.30" lengthAdjust="spacingAndGlyphs" fill="#1a1a1a">Probability</text>
<text x="302.85" y="160.10" font-size="6.6" textLength="8.00" lengthAdjust="spacingAndGlyphs" fill="#1a1a1a">0.0</text>
<text x="302.85" y="146.53" font-size="6.6" textLength="8.00" lengthAdjust="spacingAndGlyphs" fill="#1a1a1a">0.1</text>
<text x="302.85" y="132.95" font-size="6.6" textLength="8.00" lengthAdjust="spacingAndGlyphs" fill="#1a1a1a">0.2</text>
<text x="302.85" y="119.38" font-size="6.6" textLength="8.00" lengthAdjust="spacingAndGlyphs" fill="#1a1a1a">0.3</text>
<text x="302.85" y="105.80" font-size="6.6" textLength="8.00" lengthAdjust="spacingAndGlyphs" fill="#1a1a1a">0.4</text>
<text x="302.85" y="92.23" font-size="6.6" textLength="8.00" lengthAdjust="spacingAndGlyphs" fill="#1a1a1a">0.5</text>
<text x="302.85" y="78.65" font-size="6.6" textLength="8.00" lengthAdjust="spacingAndGlyphs" fill="#1a1a1a">0.6</text>
<text x="302.85" y="65.08" font-size="6.6" textLength="8.00" lengthAdjust="spacingAndGlyphs" fill="#1a1a1a">0.7</text>
<text x="302.85" y="51.50" font-size="6.6" textLength="8.00" lengthAdjust="spacingAndGlyphs" fill="#1a1a1a">0.8</text>
<text x="302.85" y="37.93" font-size="6.6" textLength="8.00" lengthAdjust="spacingAndGlyphs" fill="#1a1a1a">0.9</text>
<text x="302.85" y="24.35" font-size="6.6" textLength="8.00" lengthAdjust="spacingAndGlyphs" fill="#1a1a1a">1.0</text>
<text x="323.20" y="173.30" font-size="6.6" text-anchor="middle" textLength="3.30" lengthAdjust="spacingAndGlyphs" fill="#1a1a1a">0</text>
<text x="360.06" y="173.30" font-size="6.6" text-anchor="middle" textLength="6.30" lengthAdjust="spacingAndGlyphs" fill="#1a1a1a">12</text>
<text x="396.93" y="173.30" font-size="6.6" text-anchor="middle" textLength="6.30" lengthAdjust="spacingAndGlyphs" fill="#1a1a1a">24</text>
<text x="433.79" y="173.30" font-size="6.6" text-anchor="middle" textLength="6.30" lengthAdjust="spacingAndGlyphs" fill="#1a1a1a">36</text>
<text x="470.66" y="173.30" font-size="6.6" text-anchor="middle" textLength="6.30" lengthAdjust="spacingAndGlyphs" fill="#1a1a1a">48</text>
<text x="335.70" y="129.10" font-size="5.9" textLength="23.30" lengthAdjust="spacingAndGlyphs" fill="#1a1a1a" style="stroke-width:0.05px">Karyotype</text>
<text x="376.70" y="129.10" font-size="5.9" textLength="25.00" lengthAdjust="spacingAndGlyphs" fill="#1a1a1a" style="stroke-width:0.05px">Time-Point</text>
<text x="419.90" y="129.10" font-size="5.9" textLength="35.85" lengthAdjust="spacingAndGlyphs" fill="#1a1a1a" style="stroke-width:0.05px">KM est (95% CI)</text>
<text x="335.90" y="138.70" font-size="5.9" textLength="22.10" lengthAdjust="spacingAndGlyphs" fill="#1a1a1a" style="stroke-width:0.05px">Favorable</text>
<text x="377.00" y="138.70" font-size="5.9" textLength="24.30" lengthAdjust="spacingAndGlyphs" fill="#1a1a1a" style="stroke-width:0.05px">60 months</text>
<text x="421.00" y="138.70" font-size="5.9" textLength="34.75" lengthAdjust="spacingAndGlyphs" fill="#1a1a1a" style="stroke-width:0.05px">0.74 (0.60-0.83)</text>
<text x="335.90" y="148.00" font-size="5.9" textLength="27.90" lengthAdjust="spacingAndGlyphs" fill="#1a1a1a" style="stroke-width:0.05px">Unfavorable</text>
<text x="377.00" y="148.00" font-size="5.9" textLength="24.30" lengthAdjust="spacingAndGlyphs" fill="#1a1a1a" style="stroke-width:0.05px">60 months</text>
<text x="421.00" y="148.00" font-size="5.9" textLength="34.75" lengthAdjust="spacingAndGlyphs" fill="#1a1a1a" style="stroke-width:0.05px">0.57 (0.35-0.74)</text>
<text x="335.90" y="156.90" font-size="5.9" textLength="30.60" lengthAdjust="spacingAndGlyphs" fill="#1a1a1a" style="stroke-width:0.05px">Very high risk</text>
<text x="377.00" y="156.90" font-size="5.9" textLength="24.30" lengthAdjust="spacingAndGlyphs" fill="#1a1a1a" style="stroke-width:0.05px">60 months</text>
<text x="421.00" y="156.90" font-size="5.9" textLength="34.75" lengthAdjust="spacingAndGlyphs" fill="#1a1a1a" style="stroke-width:0.05px">0.28 (0.08-0.53)</text>
<text x="486.60" y="158.70" font-size="6.2" textLength="20.20" lengthAdjust="spacingAndGlyphs" fill="#1a1a1a" style="stroke-width:0.04px">+ Censor</text>
<text x="371.60" y="185.10" font-size="9.3" textLength="86.10" lengthAdjust="spacingAndGlyphs" fill="#1a1a1a">Months from transplant</text>
<text x="287.00" y="196.50" font-size="6.4" textLength="26.75" lengthAdjust="spacingAndGlyphs" fill="#1a1a1a">Favorable</text>
<text x="323.20" y="196.50" font-size="6.4" text-anchor="middle" textLength="6.80" lengthAdjust="spacingAndGlyphs" fill="#1a1a1a">67</text>
<text x="360.06" y="196.50" font-size="6.4" text-anchor="middle" textLength="6.80" lengthAdjust="spacingAndGlyphs" fill="#1a1a1a">55</text>
<text x="396.93" y="196.50" font-size="6.4" text-anchor="middle" textLength="6.80" lengthAdjust="spacingAndGlyphs" fill="#1a1a1a">46</text>
<text x="433.79" y="196.50" font-size="6.4" text-anchor="middle" textLength="6.80" lengthAdjust="spacingAndGlyphs" fill="#1a1a1a">41</text>
<text x="470.66" y="196.50" font-size="6.4" text-anchor="middle" textLength="6.80" lengthAdjust="spacingAndGlyphs" fill="#1a1a1a">35</text>
<text x="507.52" y="196.50" font-size="6.4" text-anchor="middle" textLength="6.80" lengthAdjust="spacingAndGlyphs" fill="#1a1a1a">29</text>
<text x="280.00" y="204.40" font-size="6.4" textLength="33.75" lengthAdjust="spacingAndGlyphs" fill="#1a1a1a">Unfavorable</text>
<text x="323.20" y="204.40" font-size="6.4" text-anchor="middle" textLength="6.80" lengthAdjust="spacingAndGlyphs" fill="#1a1a1a">24</text>
<text x="360.06" y="204.40" font-size="6.4" text-anchor="middle" textLength="6.80" lengthAdjust="spacingAndGlyphs" fill="#1a1a1a">15</text>
<text x="396.93" y="204.40" font-size="6.4" text-anchor="middle" textLength="6.80" lengthAdjust="spacingAndGlyphs" fill="#1a1a1a">12</text>
<text x="433.79" y="204.40" font-size="6.4" text-anchor="middle" textLength="6.80" lengthAdjust="spacingAndGlyphs" fill="#1a1a1a">10</text>
<text x="470.66" y="204.40" font-size="6.4" text-anchor="middle" textLength="6.80" lengthAdjust="spacingAndGlyphs" fill="#1a1a1a">10</text>
<text x="507.52" y="204.40" font-size="6.4" text-anchor="middle" textLength="3.40" lengthAdjust="spacingAndGlyphs" fill="#1a1a1a">8</text>
<text x="275.00" y="212.30" font-size="6.4" textLength="38.75" lengthAdjust="spacingAndGlyphs" fill="#1a1a1a">Very High Risk</text>
<text x="323.20" y="212.30" font-size="6.4" text-anchor="middle" textLength="6.80" lengthAdjust="spacingAndGlyphs" fill="#1a1a1a">15</text>
<text x="360.06" y="212.30" font-size="6.4" text-anchor="middle" textLength="6.80" lengthAdjust="spacingAndGlyphs" fill="#1a1a1a">10</text>
<text x="396.93" y="212.30" font-size="6.4" text-anchor="middle" textLength="3.40" lengthAdjust="spacingAndGlyphs" fill="#1a1a1a">9</text>
<text x="433.79" y="212.30" font-size="6.4" text-anchor="middle" textLength="3.40" lengthAdjust="spacingAndGlyphs" fill="#1a1a1a">5</text>
<text x="470.66" y="212.30" font-size="6.4" text-anchor="middle" textLength="3.40" lengthAdjust="spacingAndGlyphs" fill="#1a1a1a">3</text>
<text x="507.52" y="212.30" font-size="6.4" text-anchor="middle" textLength="3.40" lengthAdjust="spacingAndGlyphs" fill="#1a1a1a">3</text>
<text x="8.70" y="240.30" font-size="12.3" textLength="6.50" lengthAdjust="spacingAndGlyphs" fill="#1a1a1a">C</text>
<text x="117.90" y="237.70" font-size="8.7" textLength="78.60" lengthAdjust="spacingAndGlyphs" fill="#1a1a1a">Non-relapse Mortality</text>
<text transform="translate(40.60,353.20) rotate(-90)" x="0" y="0" font-size="9.3" textLength="79.80" lengthAdjust="spacingAndGlyphs" fill="#1a1a1a">Cumulative incidence</text>
<text x="46.70" y="383.00" font-size="6.6" textLength="8.00" lengthAdjust="spacingAndGlyphs" fill="#1a1a1a">0.0</text>
<text x="46.70" y="369.57" font-size="6.6" textLength="8.00" lengthAdjust="spacingAndGlyphs" fill="#1a1a1a">0.1</text>
<text x="46.70" y="356.14" font-size="6.6" textLength="8.00" lengthAdjust="spacingAndGlyphs" fill="#1a1a1a">0.2</text>
<text x="46.70" y="342.71" font-size="6.6" textLength="8.00" lengthAdjust="spacingAndGlyphs" fill="#1a1a1a">0.3</text>
<text x="46.70" y="329.28" font-size="6.6" textLength="8.00" lengthAdjust="spacingAndGlyphs" fill="#1a1a1a">0.4</text>
<text x="46.70" y="315.85" font-size="6.6" textLength="8.00" lengthAdjust="spacingAndGlyphs" fill="#1a1a1a">0.5</text>
<text x="46.70" y="302.42" font-size="6.6" textLength="8.00" lengthAdjust="spacingAndGlyphs" fill="#1a1a1a">0.6</text>
<text x="46.70" y="288.99" font-size="6.6" textLength="8.00" lengthAdjust="spacingAndGlyphs" fill="#1a1a1a">0.7</text>
<text x="46.70" y="275.56" font-size="6.6" textLength="8.00" lengthAdjust="spacingAndGlyphs" fill="#1a1a1a">0.8</text>
<text x="46.70" y="262.13" font-size="6.6" textLength="8.00" lengthAdjust="spacingAndGlyphs" fill="#1a1a1a">0.9</text>
<text x="46.70" y="248.70" font-size="6.6" textLength="8.00" lengthAdjust="spacingAndGlyphs" fill="#1a1a1a">1.0</text>
<text x="67.20" y="396.00" font-size="6.6" text-anchor="middle" textLength="3.30" lengthAdjust="spacingAndGlyphs" fill="#1a1a1a">0</text>
<text x="103.06" y="396.00" font-size="6.6" text-anchor="middle" textLength="6.30" lengthAdjust="spacingAndGlyphs" fill="#1a1a1a">12</text>
<text x="138.91" y="396.00" font-size="6.6" text-anchor="middle" textLength="6.30" lengthAdjust="spacingAndGlyphs" fill="#1a1a1a">24</text>
<text x="174.77" y="396.00" font-size="6.6" text-anchor="middle" textLength="6.30" lengthAdjust="spacingAndGlyphs" fill="#1a1a1a">36</text>
<text x="210.62" y="396.00" font-size="6.6" text-anchor="middle" textLength="6.30" lengthAdjust="spacingAndGlyphs" fill="#1a1a1a">48</text>
<text x="246.48" y="396.00" font-size="6.6" text-anchor="middle" textLength="6.30" lengthAdjust="spacingAndGlyphs" fill="#1a1a1a">60</text>
<text x="85.60" y="254.00" font-size="5.9" textLength="8.60" lengthAdjust="spacingAndGlyphs" fill="#1a1a1a" style="stroke-width:0.05px">CBL</text>
<text x="105.40" y="254.00" font-size="5.9" textLength="24.80" lengthAdjust="spacingAndGlyphs" fill="#1a1a1a" style="stroke-width:0.05px">Time-Point</text>
<text x="138.40" y="254.00" font-size="5.9" textLength="35.60" lengthAdjust="spacingAndGlyphs" fill="#1a1a1a" style="stroke-width:0.05px">CIF est (95% CI)</text>
<text x="80.60" y="261.50" font-size="5.9" textLength="20.70" lengthAdjust="spacingAndGlyphs" fill="#1a1a1a" style="stroke-width:0.05px">Negative</text>
<text x="105.40" y="261.50" font-size="5.9" textLength="24.20" lengthAdjust="spacingAndGlyphs" fill="#1a1a1a" style="stroke-width:0.05px">60 months</text>
<text x="138.40" y="261.50" font-size="5.9" textLength="35.60" lengthAdjust="spacingAndGlyphs" fill="#1a1a1a" style="stroke-width:0.05px">0.23 (0.14-0.34)</text>
<text x="80.60" y="270.60" font-size="5.9" textLength="18.20" lengthAdjust="spacingAndGlyphs" fill="#1a1a1a" style="stroke-width:0.05px">Positive</text>
<text x="105.40" y="270.60" font-size="5.9" textLength="24.20" lengthAdjust="spacingAndGlyphs" fill="#1a1a1a" style="stroke-width:0.05px">60 months</text>
<text x="138.40" y="270.60" font-size="5.9" textLength="35.60" lengthAdjust="spacingAndGlyphs" fill="#1a1a1a" style="stroke-width:0.05px">0.50 (0.11-0.80)</text>
<text x="223.75" y="254.70" font-size="5.9" textLength="19.95" lengthAdjust="spacingAndGlyphs" fill="#1a1a1a" style="stroke-width:0.03px">+ Censor</text>
<text x="176.30" y="379.40" font-size="5.4" textLength="71.70" lengthAdjust="spacingAndGlyphs" fill="#1a1a1a" style="stroke-width:0.05px">Gray Sample Test P-value: 0.004</text>
<text x="113.85" y="408.10" font-size="9.3" textLength="86.75" lengthAdjust="spacingAndGlyphs" fill="#1a1a1a">Months from transplant</text>
<text x="31.75" y="419.80" font-size="6.4" textLength="23.75" lengthAdjust="spacingAndGlyphs" fill="#1a1a1a">Negative</text>
<text x="67.20" y="419.80" font-size="6.4" text-anchor="middle" textLength="6.80" lengthAdjust="spacingAndGlyphs" fill="#1a1a1a">85</text>
<text x="103.06" y="419.80" font-size="6.4" text-anchor="middle" textLength="6.80" lengthAdjust="spacingAndGlyphs" fill="#1a1a1a">62</text>
<text x="138.91" y="419.80" font-size="6.4" text-anchor="middle" textLength="6.80" lengthAdjust="spacingAndGlyphs" fill="#1a1a1a">50</text>
<text x="174.77" y="419.80" font-size="6.4" text-anchor="middle" textLength="6.80" lengthAdjust="spacingAndGlyphs" fill="#1a1a1a">43</text>
<text x="210.62" y="419.80" font-size="6.4" text-anchor="middle" textLength="6.80" lengthAdjust="spacingAndGlyphs" fill="#1a1a1a">37</text>
<text x="246.48" y="419.80" font-size="6.4" text-anchor="middle" textLength="6.80" lengthAdjust="spacingAndGlyphs" fill="#1a1a1a">30</text>
<text x="35.00" y="427.80" font-size="6.4" textLength="20.50" lengthAdjust="spacingAndGlyphs" fill="#1a1a1a">Positive</text>
<text x="67.20" y="427.80" font-size="6.4" text-anchor="middle" textLength="3.40" lengthAdjust="spacingAndGlyphs" fill="#1a1a1a">8</text>
<text x="103.06" y="427.80" font-size="6.4" text-anchor="middle" textLength="3.40" lengthAdjust="spacingAndGlyphs" fill="#1a1a1a">1</text>
<text x="138.91" y="427.80" font-size="6.4" text-anchor="middle" textLength="3.40" lengthAdjust="spacingAndGlyphs" fill="#1a1a1a">1</text>
<text x="174.77" y="427.80" font-size="6.4" text-anchor="middle" textLength="3.40" lengthAdjust="spacingAndGlyphs" fill="#1a1a1a">1</text>
<text x="210.62" y="427.80" font-size="6.4" text-anchor="middle" textLength="3.40" lengthAdjust="spacingAndGlyphs" fill="#1a1a1a">1</text>
<text x="246.48" y="427.80" font-size="6.4" text-anchor="middle" textLength="3.40" lengthAdjust="spacingAndGlyphs" fill="#1a1a1a">1</text>
<text x="274.60" y="240.30" font-size="12.3" textLength="7.30" lengthAdjust="spacingAndGlyphs" fill="#1a1a1a">D</text>
<text x="375.20" y="236.60" font-size="8.7" textLength="79.50" lengthAdjust="spacingAndGlyphs" fill="#1a1a1a">Non-relapse Mortality</text>
<text transform="translate(296.80,352.80) rotate(-90)" x="0" y="0" font-size="9.2" textLength="79.80" lengthAdjust="spacingAndGlyphs" fill="#1a1a1a">Cumulative incidence</text>
<text x="302.90" y="383.75" font-size="6.6" textLength="8.00" lengthAdjust="spacingAndGlyphs" fill="#1a1a1a">0.0</text>
<text x="302.90" y="370.11" font-size="6.6" textLength="8.00" lengthAdjust="spacingAndGlyphs" fill="#1a1a1a">0.1</text>
<text x="302.90" y="356.46" font-size="6.6" textLength="8.00" lengthAdjust="spacingAndGlyphs" fill="#1a1a1a">0.2</text>
<text x="302.90" y="342.81" font-size="6.6" textLength="8.00" lengthAdjust="spacingAndGlyphs" fill="#1a1a1a">0.3</text>
<text x="302.90" y="329.17" font-size="6.6" textLength="8.00" lengthAdjust="spacingAndGlyphs" fill="#1a1a1a">0.4</text>
<text x="302.90" y="315.53" font-size="6.6" textLength="8.00" lengthAdjust="spacingAndGlyphs" fill="#1a1a1a">0.5</text>
<text x="302.90" y="301.88" font-size="6.6" textLength="8.00" lengthAdjust="spacingAndGlyphs" fill="#1a1a1a">0.6</text>
<text x="302.90" y="288.24" font-size="6.6" textLength="8.00" lengthAdjust="spacingAndGlyphs" fill="#1a1a1a">0.7</text>
<text x="302.90" y="274.59" font-size="6.6" textLength="8.00" lengthAdjust="spacingAndGlyphs" fill="#1a1a1a">0.8</text>
<text x="302.90" y="260.94" font-size="6.6" textLength="8.00" lengthAdjust="spacingAndGlyphs" fill="#1a1a1a">0.9</text>
<text x="302.90" y="247.30" font-size="6.6" textLength="8.00" lengthAdjust="spacingAndGlyphs" fill="#1a1a1a">1.0</text>
<text x="323.30" y="396.60" font-size="6.6" text-anchor="middle" textLength="3.30" lengthAdjust="spacingAndGlyphs" fill="#1a1a1a">0</text>
<text x="359.80" y="396.60" font-size="6.6" text-anchor="middle" textLength="6.30" lengthAdjust="spacingAndGlyphs" fill="#1a1a1a">12</text>
<text x="396.31" y="396.60" font-size="6.6" text-anchor="middle" textLength="6.30" lengthAdjust="spacingAndGlyphs" fill="#1a1a1a">24</text>
<text x="432.81" y="396.60" font-size="6.6" text-anchor="middle" textLength="6.30" lengthAdjust="spacingAndGlyphs" fill="#1a1a1a">36</text>
<text x="469.32" y="396.60" font-size="6.6" text-anchor="middle" textLength="6.30" lengthAdjust="spacingAndGlyphs" fill="#1a1a1a">48</text>
<text x="505.82" y="396.60" font-size="6.6" text-anchor="middle" textLength="6.30" lengthAdjust="spacingAndGlyphs" fill="#1a1a1a">60</text>
<text x="341.65" y="254.40" font-size="5.9" textLength="12.35" lengthAdjust="spacingAndGlyphs" fill="#1a1a1a" style="stroke-width:0.05px">U2AF</text>
<text x="363.40" y="254.40" font-size="5.9" textLength="24.80" lengthAdjust="spacingAndGlyphs" fill="#1a1a1a" style="stroke-width:0.05px">Time-Point</text>
<text x="397.00" y="254.40" font-size="5.9" textLength="34.90" lengthAdjust="spacingAndGlyphs" fill="#1a1a1a" style="stroke-width:0.05px">CIF est (95% CI)</text>
<text x="338.80" y="262.20" font-size="5.9" textLength="20.70" lengthAdjust="spacingAndGlyphs" fill="#1a1a1a" style="stroke-width:0.05px">Negative</text>
<text x="363.40" y="262.20" font-size="5.9" textLength="24.60" lengthAdjust="spacingAndGlyphs" fill="#1a1a1a" style="stroke-width:0.05px">60 months</text>
<text x="397.00" y="262.20" font-size="5.9" textLength="34.90" lengthAdjust="spacingAndGlyphs" fill="#1a1a1a" style="stroke-width:0.05px">0.22 (0.13-0.32)</text>
<text x="338.80" y="271.30" font-size="5.9" textLength="18.20" lengthAdjust="spacingAndGlyphs" fill="#1a1a1a" style="stroke-width:0.05px">Positive</text>
<text x="363.40" y="271.30" font-size="5.9" textLength="24.60" lengthAdjust="spacingAndGlyphs" fill="#1a1a1a" style="stroke-width:0.05px">60 months</text>
<text x="397.00" y="271.30" font-size="5.9" textLength="34.90" lengthAdjust="spacingAndGlyphs" fill="#1a1a1a" style="stroke-width:0.05px">0.63 (0.18-0.88)</text>
<text x="482.40" y="253.50" font-size="5.9" textLength="20.60" lengthAdjust="spacingAndGlyphs" fill="#1a1a1a" style="stroke-width:0.03px">+ Censor</text>
<text x="435.80" y="380.40" font-size="5.4" textLength="71.50" lengthAdjust="spacingAndGlyphs" fill="#1a1a1a" style="stroke-width:0.05px">Gray Sample Test P-value: 0.009</text>
<text x="371.90" y="407.90" font-size="9.3" textLength="86.50" lengthAdjust="spacingAndGlyphs" fill="#1a1a1a">Months from transplant</text>
<text x="289.50" y="419.80" font-size="6.4" textLength="24.25" lengthAdjust="spacingAndGlyphs" fill="#1a1a1a">Negative</text>
<text x="323.30" y="419.80" font-size="6.4" text-anchor="middle" textLength="6.80" lengthAdjust="spacingAndGlyphs" fill="#1a1a1a">85</text>
<text x="359.80" y="419.80" font-size="6.4" text-anchor="middle" textLength="6.80" lengthAdjust="spacingAndGlyphs" fill="#1a1a1a">59</text>
<text x="396.31" y="419.80" font-size="6.4" text-anchor="middle" textLength="6.80" lengthAdjust="spacingAndGlyphs" fill="#1a1a1a">47</text>
<text x="432.81" y="419.80" font-size="6.4" text-anchor="middle" textLength="6.80" lengthAdjust="spacingAndGlyphs" fill="#1a1a1a">40</text>
<text x="469.32" y="419.80" font-size="6.4" text-anchor="middle" textLength="6.80" lengthAdjust="spacingAndGlyphs" fill="#1a1a1a">35</text>
<text x="505.82" y="419.80" font-size="6.4" text-anchor="middle" textLength="6.80" lengthAdjust="spacingAndGlyphs" fill="#1a1a1a">29</text>
<text x="292.50" y="427.80" font-size="6.4" textLength="21.25" lengthAdjust="spacingAndGlyphs" fill="#1a1a1a">Positive</text>
<text x="323.30" y="427.80" font-size="6.4" text-anchor="middle" textLength="3.40" lengthAdjust="spacingAndGlyphs" fill="#1a1a1a">8</text>
<text x="359.80" y="427.80" font-size="6.4" text-anchor="middle" textLength="3.40" lengthAdjust="spacingAndGlyphs" fill="#1a1a1a">4</text>
<text x="396.31" y="427.80" font-size="6.4" text-anchor="middle" textLength="3.40" lengthAdjust="spacingAndGlyphs" fill="#1a1a1a">4</text>
<text x="432.81" y="427.80" font-size="6.4" text-anchor="middle" textLength="3.40" lengthAdjust="spacingAndGlyphs" fill="#1a1a1a">4</text>
<text x="469.32" y="427.80" font-size="6.4" text-anchor="middle" textLength="3.40" lengthAdjust="spacingAndGlyphs" fill="#1a1a1a">3</text>
<text x="505.82" y="427.80" font-size="6.4" text-anchor="middle" textLength="3.40" lengthAdjust="spacingAndGlyphs" fill="#1a1a1a">2</text>
</g>
<rect x="0" y="1" width="520" height="1" fill="#999"/><rect x="0" y="433" width="520" height="1" fill="#aaa"/><rect x="1" y="0" width="1" height="435" fill="#8a8a8a"/><rect x="518" y="0" width="1" height="435" fill="#8c8c8c"/><rect x="0" y="0" width="520" height="1" fill="#0d0d0d"/><rect x="0" y="434" width="520" height="1" fill="#0a0a0a"/><rect x="0" y="0" width="1" height="435" fill="#000"/><rect x="519" y="0" width="1" height="435" fill="#000"/>
</svg>
</body></html>
